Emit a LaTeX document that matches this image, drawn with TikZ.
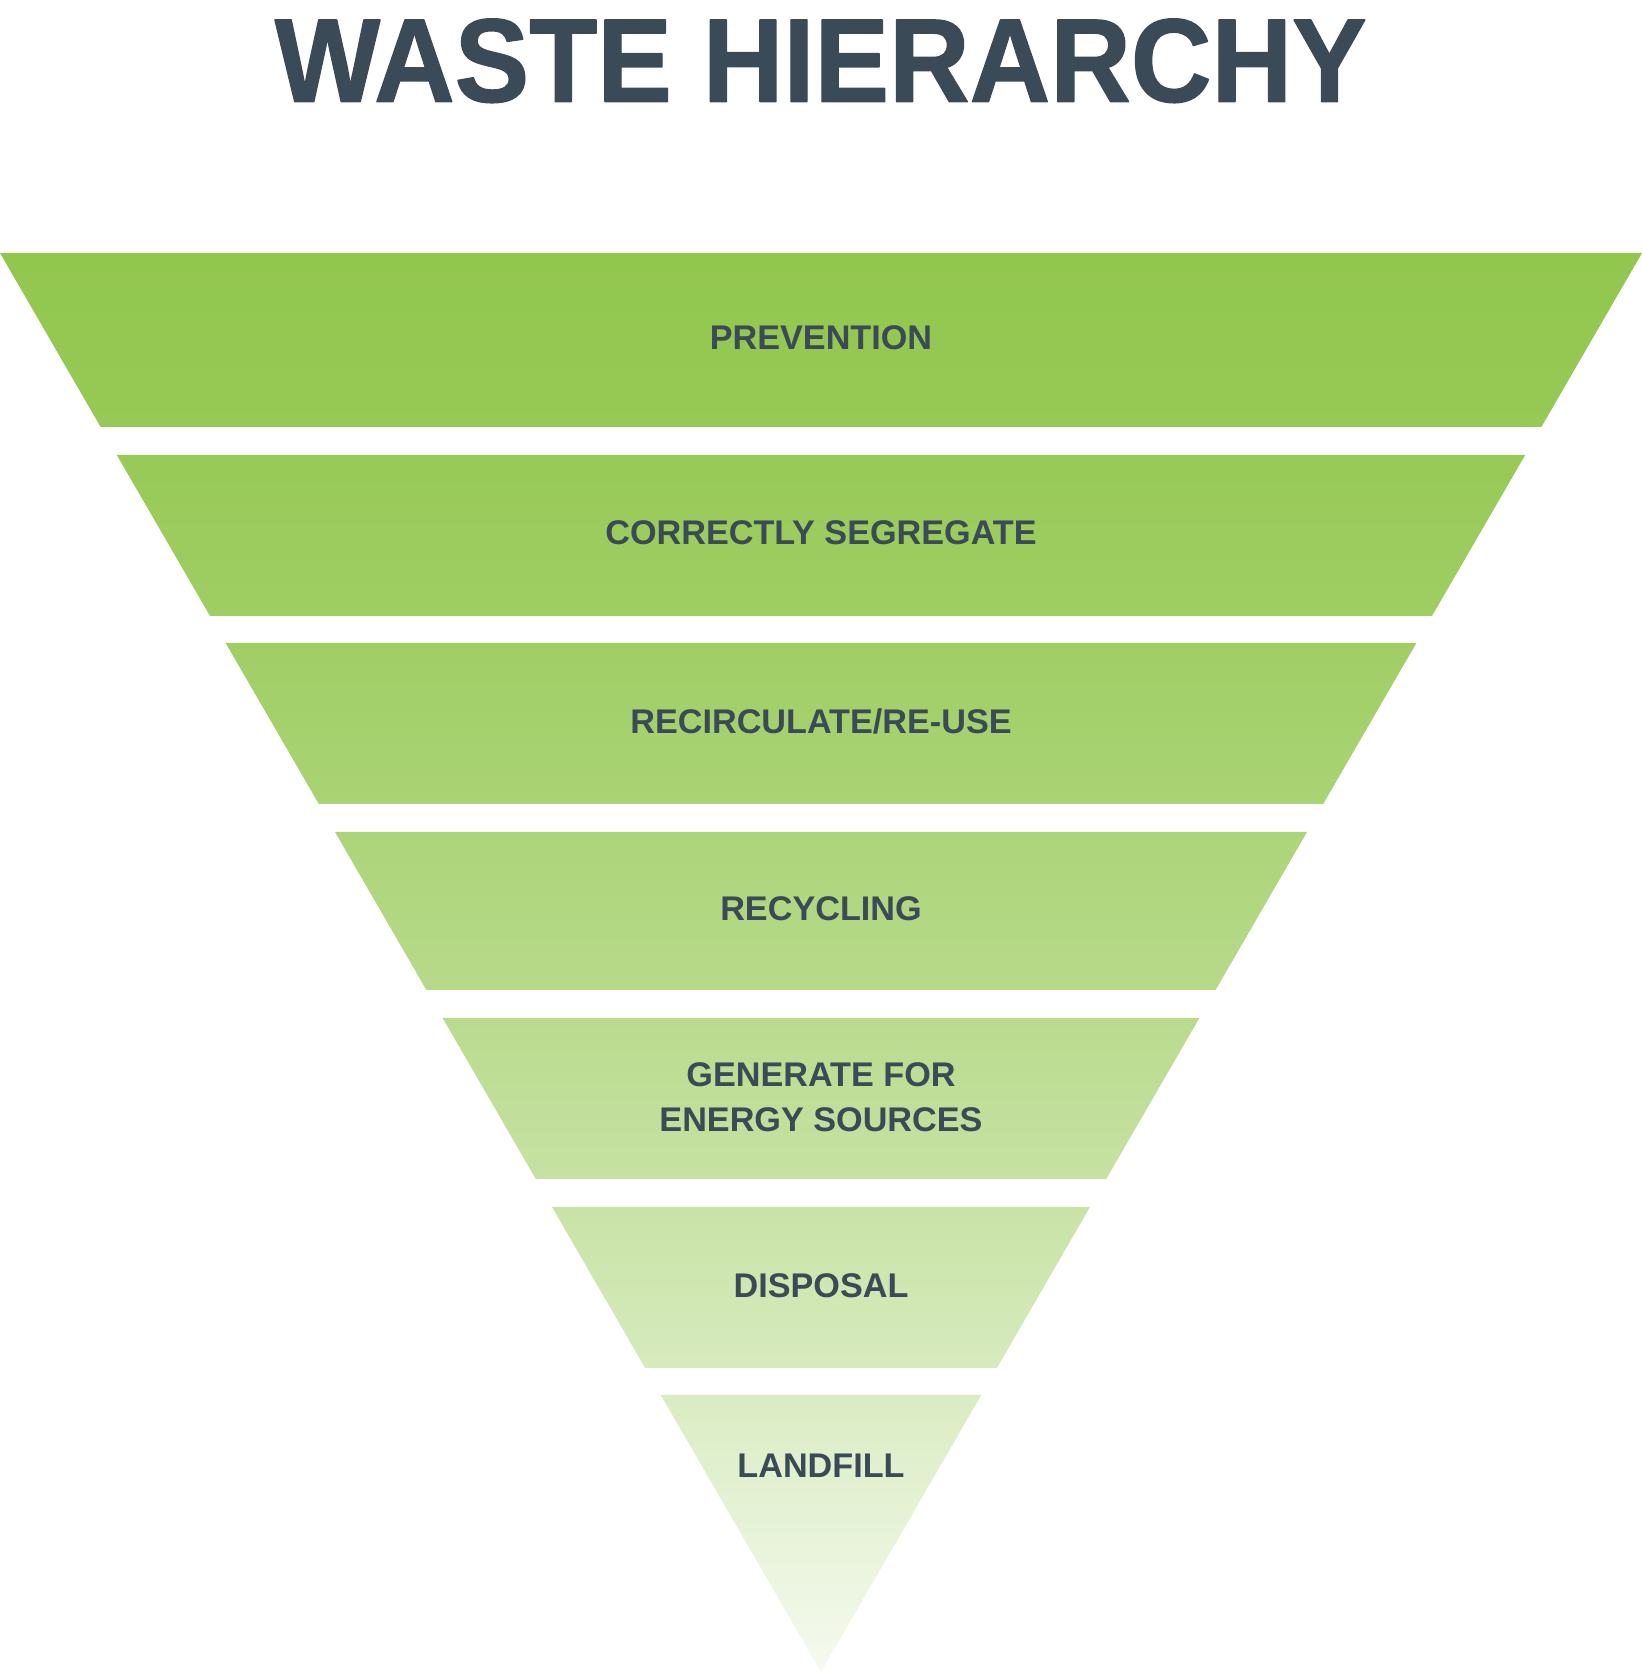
\documentclass[tikz,border=0pt]{standalone}
\usepackage{fontspec}
\setmainfont{Liberation Sans}
\newfontfamily\headfont[FakeBold=1.2]{Liberation Sans Bold}
\usepackage{tikz}
\definecolor{leafgrn}{rgb}{0.5725,0.7804,0.3059}
\definecolor{slatebb}{rgb}{0.2275,0.2902,0.3412}
\begin{document}
\begin{tikzpicture}[line cap=round,line join=round,x=0.5pt,y=0.5pt,
  rung/.style={color=slatebb,font=\fontsize{17.1}{22.5}\selectfont\bfseries,align=center,inner sep=0pt}]
\clip(0.,0.) rectangle (1642.,1675.);
\shade [top color=leafgrn, bottom color=leafgrn!96!white] (0.,1422.) -- (1642.,1422.) -- (1541.4,1248.) -- (100.6,1248.) -- cycle;
\shade [top color=leafgrn!95!white, bottom color=leafgrn!88!white] (116.8,1220.) -- (1525.2,1220.) -- (1432.,1059.) -- (210.,1059.) -- cycle;
\shade [top color=leafgrn!87!white, bottom color=leafgrn!78!white] (225.6,1032.) -- (1416.4,1032.) -- (1323.2,871.) -- (318.8,871.) -- cycle;
\shade [top color=leafgrn!76!white, bottom color=leafgrn!66!white] (335.,843.) -- (1307.,843.) -- (1215.6,685.) -- (426.4,685.) -- cycle;
\shade [top color=leafgrn!64!white, bottom color=leafgrn!52!white] (442.6,657.) -- (1199.4,657.) -- (1106.2,496.) -- (535.8,496.) -- cycle;
\shade [top color=leafgrn!50!white, bottom color=leafgrn!37!white] (552.,468.) -- (1090.,468.) -- (996.9,307.) -- (645.1,307.) -- cycle;
\shade [top color=leafgrn!34!white, bottom color=leafgrn!9!white] (660.7,280.) -- (981.3,280.) -- (821.,3.) -- cycle;
\draw [color=slatebb] (820.8,1614.2) node[inner sep=0pt,font=\fontsize{59.4}{60}\headfont] (title) {\scalebox{0.94}[1]{WASTE HIERARCHY}};
\draw (821.,1337.5) node[rung] (prevention) {PREVENTION};
\draw (821.,1142.) node[rung] (segregate) {CORRECTLY SEGREGATE};
\draw (821.,954.) node[rung] (reuse) {RECIRCULATE/RE-USE};
\draw (821.,766.) node[rung] (recycling) {RECYCLING};
\draw (821.,577.6) node[rung] (energy) {GENERATE FOR\\ENERGY SOURCES};
\draw (821.,389.) node[rung] (disposal) {DISPOSAL};
\draw (821.,209.5) node[rung] (landfill) {LANDFILL};
\end{tikzpicture}
\end{document}
